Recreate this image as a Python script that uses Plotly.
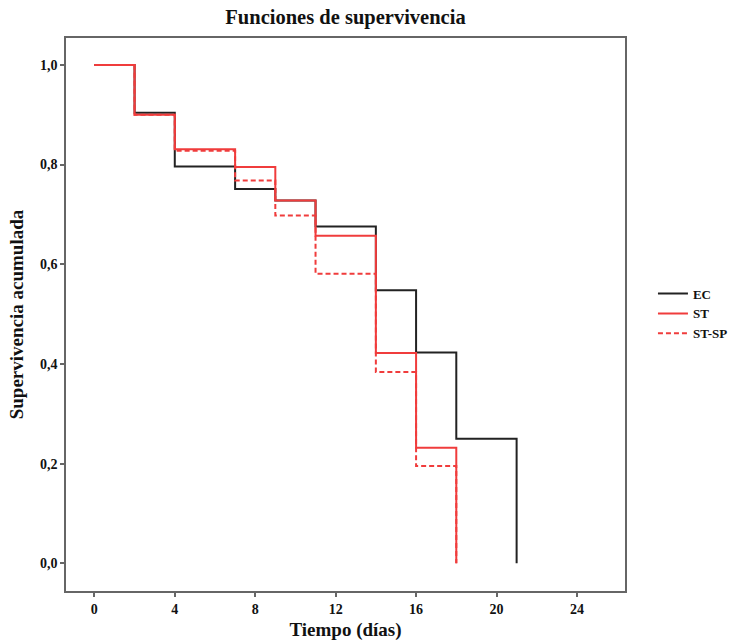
import plotly.graph_objects as go

# Kaplan-Meier step data (time in days, cumulative survival)
ec_t = [0, 2, 4, 7, 9, 11, 14, 16, 18, 21]
ec_s = [1.0, 0.904, 0.796, 0.751, 0.728, 0.676, 0.548, 0.423, 0.250, 0.0]

st_t = [0, 2, 4, 7, 9, 11, 14, 16, 18]
st_s = [1.0, 0.900, 0.831, 0.795, 0.728, 0.657, 0.422, 0.232, 0.0]

stsp_t = [0, 2, 4, 7, 9, 11, 14, 16, 18]
stsp_s = [1.0, 0.900, 0.828, 0.768, 0.698, 0.581, 0.384, 0.195, 0.0]

x_ticks = [0, 4, 8, 12, 16, 20, 24]
y_ticks = [0.0, 0.2, 0.4, 0.6, 0.8, 1.0]

SERIF = "Liberation Serif, Times New Roman, serif"
RED = "#f03c3c"

fig = go.Figure()
fig.add_trace(go.Scatter(x=ec_t, y=ec_s, mode="lines", name="<b>EC</b>",
                         line=dict(shape="hv", color="#222222", width=2)))
fig.add_trace(go.Scatter(x=st_t, y=st_s, mode="lines", name="<b>ST</b>",
                         line=dict(shape="hv", color=RED, width=2)))
fig.add_trace(go.Scatter(x=stsp_t, y=stsp_s, mode="lines", name="<b>ST-SP</b>",
                         line=dict(shape="hv", color=RED, width=2, dash="5px,3px")))

axis_common = dict(
    showgrid=False, zeroline=False, showline=True, linecolor="#666666", linewidth=1.5,
    mirror=True, ticks="outside", ticklen=4, tickcolor="#666666", tickwidth=1.5,
    tickfont=dict(family=SERIF, size=14, color="#111111"), automargin=False,
)

fig.update_layout(
    width=729, height=641,
    paper_bgcolor="white", plot_bgcolor="white",
    separators=",.",
    margin=dict(l=66, r=104, t=38, b=50, autoexpand=False),
    title=dict(text="<b>Funciones de supervivencia</b>", x=(66 + 625) / 2 / 729, xanchor="center",
               y=1 - 17 / 641, yanchor="middle",
               font=dict(family=SERIF, size=20.5, color="#111111")),
    xaxis=dict(range=[-1.41, 26.39], tickvals=x_ticks, ticktext=[f"<b>{v}</b>" for v in x_ticks],
               title=dict(text="<b>Tiempo (días)</b>", standoff=7,
                          font=dict(family=SERIF, size=19, color="#111111")),
               **axis_common),
    yaxis=dict(range=[-0.0556, 1.054], tickvals=y_ticks,
               ticktext=[f"<b>{v:.1f}</b>".replace(".", ",") for v in y_ticks],
               title=dict(text="<b>Supervivencia acumulada</b>", standoff=11,
                          font=dict(family=SERIF, size=19, color="#111111")),
               **axis_common),
    legend=dict(x=1.05, y=0.565, xanchor="left", yanchor="top",
                font=dict(family=SERIF, size=13, color="#111111"),
                itemwidth=30, tracegroupgap=0, bgcolor="rgba(0,0,0,0)"),
    showlegend=True,
)

fig.write_html("out.html", config={"displayModeBar": False},
               post_script="document.body.style.margin='0';document.body.style.overflow='hidden';")
